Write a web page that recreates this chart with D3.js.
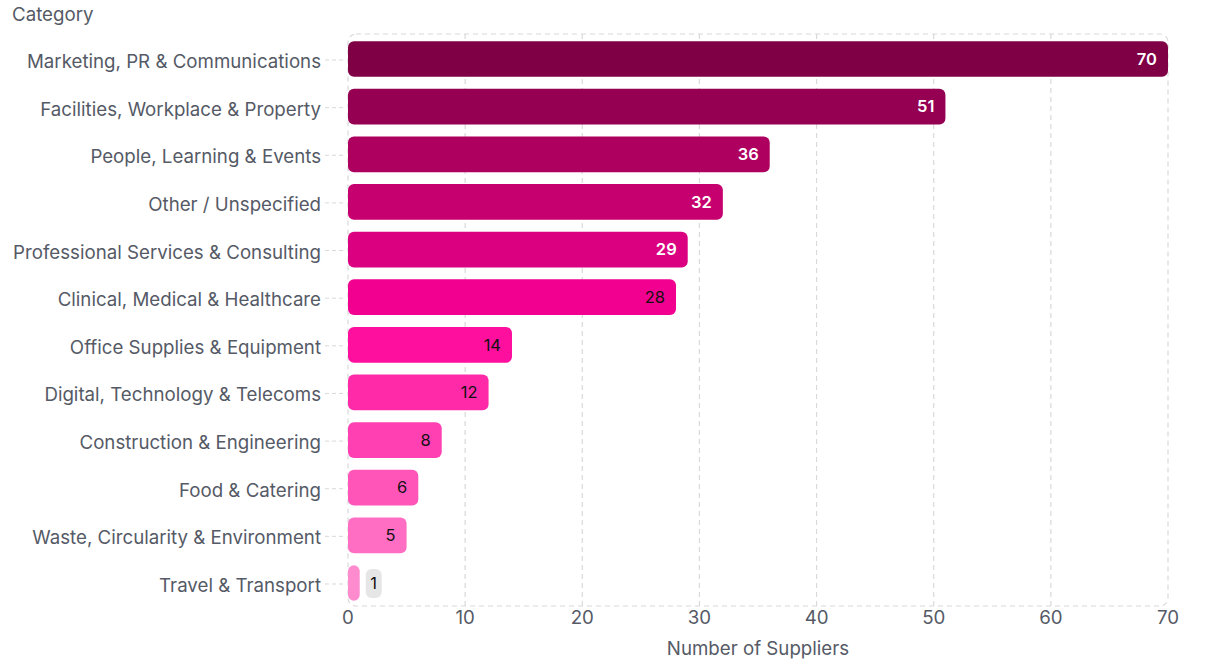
<!DOCTYPE html>
<html>
<head>
<meta charset="utf-8">
<script src="https://d3js.org/d3.v7.min.js"></script>
<style>
  body { margin: 0; background: #fff; }
  text { font-family: Inter, "Noto Sans", sans-serif; }
</style>
</head>
<body>
<svg width="1206" height="664"></svg>
<script>
const categories = [
  "Marketing, PR & Communications",
  "Facilities, Workplace & Property",
  "People, Learning & Events",
  "Other / Unspecified",
  "Professional Services & Consulting",
  "Clinical, Medical & Healthcare",
  "Office Supplies & Equipment",
  "Digital, Technology & Telecoms",
  "Construction & Engineering",
  "Food & Catering",
  "Waste, Circularity & Environment",
  "Travel & Transport"
];
const suppliers = [70, 51, 36, 32, 29, 28, 14, 12, 8, 6, 5, 1];
const barColors = [
  "#800046", "#950052", "#ae005f", "#c6006e", "#da0080", "#f2008f",
  "#ff0f9e", "#ff2aa8", "#ff40b2", "#ff55b9", "#ff6ec3", "#ff8bcf"
];
const xTicks = [0, 10, 20, 30, 40, 50, 60, 70];

const svg = d3.select("svg");
const plotL = 348, plotR = 1168, plotT = 34, plotB = 606;
const textCol = "#555a66";
const fs = 18.7;

const x = d3.scaleLinear().domain([0, 70]).range([plotL, plotR]);
const y = d3.scaleBand().domain(categories).range([plotT, plotB + 2])
  .paddingInner(0.25).paddingOuter(0.15);

// plot frame
svg.append("rect")
  .attr("x", plotL).attr("y", plotT)
  .attr("width", plotR - plotL).attr("height", plotB - plotT)
  .attr("rx", 8)
  .attr("fill", "none").attr("stroke", "#d9d9d9")
  .attr("stroke-dasharray", "5,4").attr("stroke-width", 1.2);

// vertical grid
svg.append("g").selectAll("line")
  .data(xTicks.slice(1, -1))
  .join("line")
  .attr("x1", d => x(d)).attr("x2", d => x(d))
  .attr("y1", plotT).attr("y2", plotB)
  .attr("stroke", "#d9d9d9").attr("stroke-dasharray", "5,4").attr("stroke-width", 1.2);

// x axis labels
svg.append("g").selectAll("text")
  .data(xTicks)
  .join("text")
  .attr("x", d => x(d)).attr("y", 624)
  .attr("text-anchor", "middle")
  .attr("font-size", fs).attr("fill", textCol)
  .text(d => d);

svg.append("text")
  .attr("x", (plotL + plotR) / 2).attr("y", 655)
  .attr("text-anchor", "middle")
  .attr("font-size", fs).attr("fill", textCol)
  .text("Number of Suppliers");

svg.append("text")
  .attr("x", 12).attr("y", 21)
  .attr("font-size", fs).attr("fill", textCol)
  .text("Category");

// y tick marks + labels
const yg = svg.append("g").selectAll("g")
  .data(categories)
  .join("g")
  .attr("transform", d => `translate(0,${y(d) + y.bandwidth() / 2})`);
yg.append("line")
  .attr("x1", 325).attr("x2", plotL - 4)
  .attr("y1", 1).attr("y2", 1)
  .attr("stroke", "#d9d9d9").attr("stroke-dasharray", "4,3");
yg.append("text")
  .attr("x", 321).attr("y", 2.5).attr("dy", "0.35em")
  .attr("text-anchor", "end")
  .attr("font-size", fs).attr("fill", textCol)
  .text(d => d);

// bars
svg.append("g").selectAll("rect")
  .data(categories)
  .join("rect")
  .attr("x", x(0))
  .attr("y", d => y(d))
  .attr("width", (d, i) => x(suppliers[i]) - x(0))
  .attr("height", y.bandwidth())
  .attr("rx", 6)
  .attr("fill", (d, i) => barColors[i]);

// value labels
categories.forEach((c, i) => {
  const v = suppliers[i];
  const cy = y(c) + y.bandwidth() / 2;
  if (x(v) - x(0) > 30) {
    svg.append("text")
      .attr("x", x(v) - 11).attr("y", cy).attr("dy", "0.35em")
      .attr("text-anchor", "end")
      .attr("font-size", 16.5)
      .attr("font-weight", i < 5 ? 600 : 400)
      .attr("fill", i < 5 ? "#fff" : "#111")
      .text(v);
  } else {
    const bx = x(v) + 6;
    svg.append("rect")
      .attr("x", bx).attr("y", cy - 14)
      .attr("width", 16).attr("height", 29)
      .attr("rx", 6).attr("fill", "#e6e6e6");
    svg.append("text")
      .attr("x", bx + 8).attr("y", cy).attr("dy", "0.35em")
      .attr("text-anchor", "middle")
      .attr("font-size", 16.5).attr("fill", "#111")
      .text(v);
  }
});
</script>
</body>
</html>
